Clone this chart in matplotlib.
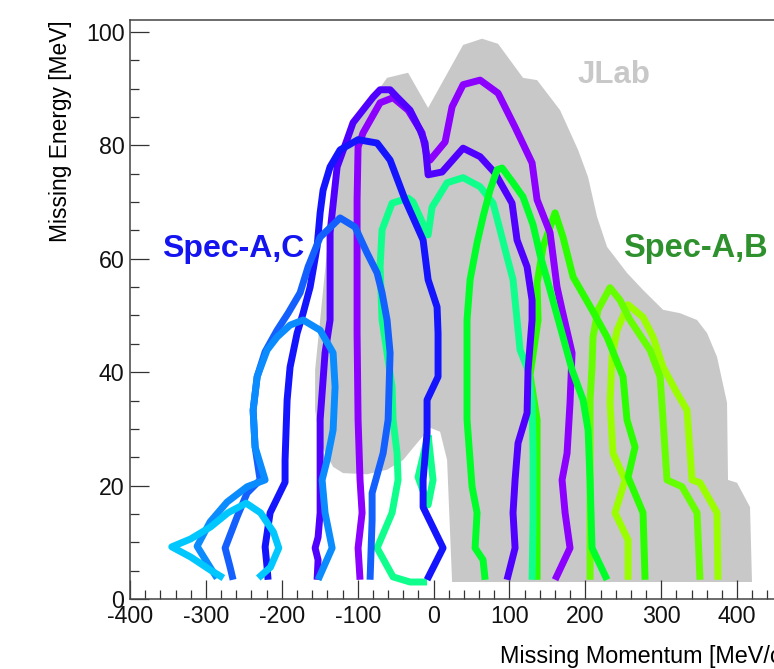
import matplotlib
matplotlib.use('Agg')
import matplotlib.pyplot as plt
from matplotlib.ticker import MultipleLocator

plt.rcParams['font.family'] = ['Liberation Sans', 'DejaVu Sans']
plt.rcParams['axes.unicode_minus'] = False

# JLab acceptance (grey band)
jlab_x = [419.6, 24.4, 17.8, 8.6, -4.6, -21.7, -40.2, -61.3, -87.6, -119.2, -132.4, -149.5,
          -156.1, -156.1, -149.5, -140.3, -129.8, -119.2, -100.8, -79.7, -61.3, -33.6, -7.2,
          38.9, 63.9, 85.0, 117.9, 136.4, 166.7, 190.4, 203.6, 215.4, 228.6, 254.9, 276.0,
          302.4, 324.8, 347.2, 360.4, 373.5, 386.7, 388.0, 399.9, 417.0]
jlab_y = [3.0, 3.0, 24.5, 29.5, 30.2, 27.5, 24.5, 22.8, 22.0, 22.2, 23.3, 27.5,
          33.3, 40.4, 49.2, 61.6, 72.1, 79.2, 84.5, 88.4, 91.9, 92.8, 86.6,
          97.7, 98.8, 97.9, 91.9, 91.5, 86.2, 79.2, 74.4, 67.4, 62.1, 57.5, 54.5,
          51.0, 50.4, 49.2, 46.9, 42.7, 34.6, 21.0, 20.5, 16.2]

# Spec-A,C settings
cyan_x = [-277, -294, -320, -345, -320, -294, -271, -247, -228, -211, -204, -215, -231]
cyan_y = [3.7, 5.1, 7.4, 9.2, 10.6, 12.7, 15.2, 16.9, 15.2, 11.8, 9.0, 5.6, 3.7]

azure_x = [-285.3, -294.5, -311.6, -294.5, -272.1, -245.7, -222.0, -235.2, -237.8, -232.5,
           -219.4, -206.2, -189.1, -171.9, -149.5, -132.4, -129.8, -132.4, -140.3, -146.9,
           -143.0, -133.7, -152.2]
azure_y = [3.7, 5.6, 9.3, 13.6, 17.1, 19.8, 21.0, 26.8, 33.3, 39.2,
           43.9, 46.2, 48.3, 49.2, 47.4, 43.4, 37.4, 29.8, 24.5, 21.0,
           15.2, 9.0, 3.4]

mblue_x = [-264.2, -268.1, -274.7, -258.9, -245.7, -228.6, -235.2, -237.8, -232.5, -222.0,
           -206.2, -191.7, -175.9, -165.3, -149.5, -123.2, -103.5, -87.6, -74.4, -67.9,
           -61.3, -57.3, -59.9, -66.5, -81.0, -81.0, -83.7]
mblue_y = [3.4, 5.6, 9.0, 14.5, 18.7, 21.0, 26.8, 33.3, 39.2, 43.6,
           47.4, 50.4, 54.0, 58.6, 63.8, 67.2, 65.6, 61.0, 57.5, 54.0,
           49.2, 43.4, 31.6, 25.7, 18.7, 13.9, 3.4]

blue_x = [-218.1, -219.4, -222.0, -215.4, -195.7, -195.7, -193.0, -189.1, -179.8, -171.9,
          -162.7, -153.5, -149.5, -145.6, -136.4, -123.2, -99.5, -74.4, -57.3, -37.5,
          -13.8, -7.2, 4.6, 5.9, 5.9, -8.6, -8.6, -13.8, -13.8, 12.5, -8.6]
blue_y = [3.4, 5.6, 9.2, 15.2, 20.6, 24.5, 35.1, 40.9, 46.9, 50.4,
          55.0, 62.1, 68.1, 72.1, 76.2, 79.2, 81.0, 80.4, 77.4, 70.4,
          63.3, 56.3, 51.5, 46.9, 39.2, 35.1, 29.3, 21.0, 16.2, 9.0, 3.4]

indigo_x = [-153.5, -152.2, -156.1, -152.2, -149.5, -149.5, -149.5, -146.9, -143.0, -136.4,
            -136.4, -127.1, -114.0, -106.1, -79.7, -70.5, -57.3, -48.1, -31.0, -17.8,
            -11.2, -7.2, 11.2, 38.9, 61.3, 81.0, 103.4, 110.0, 123.2, 129.8,
            129.8, 124.5, 123.2, 111.3, 107.4, 104.7, 107.4, 96.8]
indigo_y = [3.4, 6.9, 9.0, 10.9, 15.2, 21.0, 31.6, 36.3, 43.4, 49.2,
            64.6, 76.2, 81.0, 84.0, 88.5, 89.8, 89.8, 88.5, 86.2, 82.7,
            80.4, 74.8, 75.3, 79.5, 78.0, 75.1, 69.8, 63.3, 58.6, 52.7,
            49.2, 40.4, 32.8, 27.5, 21.0, 15.2, 9.0, 3.4]

violet_x = [-96.9, -99.5, -94.2, -96.9, -99.5, -100.8, -100.8, -99.5, -92.9, -70.5,
            -53.4, -33.6, -15.2, -8.6, -4.6, 15.2, 24.4, 38.9, 61.3, 85.0,
            107.4, 129.8, 136.4, 153.5, 162.7, 169.3, 182.5, 179.8, 175.9, 169.3,
            173.3, 179.8, 160.1]
violet_y = [3.4, 9.0, 15.2, 21.0, 31.6, 46.9, 70.4, 79.7, 82.2, 87.5,
            88.4, 86.2, 82.2, 78.0, 77.4, 80.6, 86.8, 90.7, 91.5, 89.2,
            83.2, 76.9, 70.4, 64.6, 55.0, 51.0, 43.4, 34.6, 25.7, 21.0,
            15.2, 9.0, 3.4]

# Spec-A,B settings
spring_x = [-8.6, -31.0, -53.4, -74.4, -54.7, -46.8, -48.1, -53.4, -54.7, -61.3,
            -67.9, -70.5, -67.9, -54.7, -33.6, -27.0, -7.2, -2.0, 17.8, 38.9,
            61.3, 78.4, 87.6, 96.8, 104.7, 110.0, 114.0, 124.5, 129.8, 131.1,
            131.1, 129.8]
spring_y = [3.0, 3.0, 3.9, 9.0, 15.2, 21.0, 25.7, 31.6, 37.4, 43.4,
            49.2, 58.6, 65.1, 69.8, 70.7, 70.0, 64.2, 69.1, 73.4, 74.3,
            72.7, 69.8, 65.1, 60.3, 56.3, 49.2, 43.9, 40.4, 34.6, 25.7,
            13.9, 3.4]

island_x = [-7.2, -20.4, -7.2, -0.7, -7.2]
island_y = [28.9, 21.5, 16.6, 21.0, 28.9]

green_x = [67.9, 65.2, 54.7, 57.3, 50.7, 44.1, 44.1, 48.1, 57.3, 65.2,
           74.4, 83.7, 90.3, 104.7, 117.9, 131.1, 140.3, 153.5, 170.6, 182.5,
           197.0, 203.6, 206.2, 208.8, 228.6]
green_y = [3.4, 6.9, 9.0, 15.2, 19.8, 31.6, 49.2, 56.3, 62.8, 67.4,
           72.1, 75.7, 76.0, 73.4, 70.9, 66.0, 60.7, 54.5, 46.2, 40.4,
           35.1, 29.8, 21.0, 9.0, 3.4]

green2_x = [136.4, 136.4, 127.1, 137.7, 136.4, 144.3, 160.1, 170.6, 183.8, 208.8,
            228.6, 249.7, 254.9, 265.5, 256.3, 276.0, 278.7]
green2_y = [3.4, 31.6, 39.5, 49.2, 55.7, 62.1, 68.1, 63.8, 56.8, 51.0,
            46.2, 39.2, 31.6, 26.8, 21.5, 15.2, 3.4]

chart_x = [206.2, 206.2, 206.2, 208.8, 210.1, 216.7, 232.5, 245.7, 258.9, 285.3,
           298.5, 302.4, 307.6, 327.4, 347.2, 351.1]
chart_y = [3.4, 21.0, 35.1, 40.9, 46.2, 51.0, 54.9, 52.7, 49.2, 43.9,
           39.2, 31.6, 21.0, 19.8, 15.2, 3.4]

lime_x = [256.3, 256.3, 239.1, 252.3, 236.5, 232.5, 235.2, 241.8, 256.3, 276.0,
          289.3, 302.4, 320.8, 334.0, 340.6, 351.1, 373.5, 374.8]
lime_y = [3.4, 10.4, 15.2, 21.0, 25.7, 34.6, 42.7, 47.4, 51.9, 49.7,
          46.2, 40.9, 36.3, 33.3, 21.0, 20.5, 15.2, 3.4]

curves = [
    (lime_x, lime_y, '#99ff00'),
    (chart_x, chart_y, '#66ff00'),
    (green2_x, green2_y, '#2aff00'),
    (spring_x, spring_y, '#10ff8c'),
    (island_x, island_y, '#10ff8c'),
    (violet_x, violet_y, '#8c00ff'),
    (indigo_x, indigo_y, '#5000ff'),
    (green_x, green_y, '#00ff28'),
    (blue_x, blue_y, '#1414ff'),
    (mblue_x, mblue_y, '#1460ff'),
    (azure_x, azure_y, '#0a8cff'),
    (cyan_x, cyan_y, '#00c8ff'),
]

fig = plt.figure(figsize=(7.74, 6.69), dpi=100)
ax = fig.add_axes([0.168, 0.1046, 0.8824, 0.8655])

ax.fill(jlab_x, jlab_y, color='#c8c8c8', lw=0, zorder=1)
for xs, ys, col in curves:
    ax.plot(xs, ys, color=col, lw=5.0, solid_capstyle='butt', solid_joinstyle='round', zorder=2)

ax.text(190, 92.4, 'JLab', color='#c8c8c8', fontsize=22.5, fontweight='bold', va='center')
ax.text(-358, 60.3, 'Spec-A,C', color='#1414f0', fontsize=23, fontweight='bold')
ax.text(250, 60.3, 'Spec-A,B', color='#2e912e', fontsize=23.5, fontweight='bold')

ax.set_xlim(-400, 500)
ax.set_ylim(0, 102.1)
ax.xaxis.set_major_locator(MultipleLocator(100))
ax.xaxis.set_minor_locator(MultipleLocator(20))
ax.yaxis.set_major_locator(MultipleLocator(20))
ax.yaxis.set_minor_locator(MultipleLocator(5))
ax.tick_params(which='both', direction='in', colors='#333333', labelcolor='#111111', width=0.9)
ax.tick_params(which='major', length=13.5, labelsize=16.7, pad=4)
ax.tick_params(which='minor', length=6.5)
for s in ax.spines.values():
    s.set_color('#444444')
    s.set_linewidth(1.1)

ax.text(-0.1025, 1.0, 'Missing Energy [MeV]', transform=ax.transAxes, rotation=90,
        ha='center', va='top', fontsize=16.4)
ax.text(0.542, -0.10, 'Missing Momentum [MeV/c]', transform=ax.transAxes,
        ha='left', va='center', fontsize=16.8)

fig.savefig('out.png', dpi=100)
